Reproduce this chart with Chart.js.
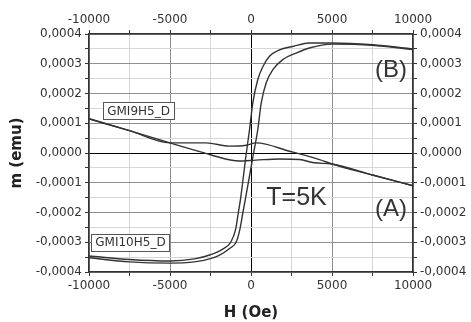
<!DOCTYPE html>
<html>
<head>
<meta charset="utf-8">
<script src="https://cdn.jsdelivr.net/npm/chart.js@4/dist/chart.umd.min.js"></script>
<style>
  body { margin: 0; background: #fff; }
  #wrap { width: 471px; height: 322px; }
</style>
</head>
<body>
<div id="wrap"><canvas id="chart" width="471" height="322"></canvas></div>
<script>
// GMI9H5_D (curve A) - two branches of a small loop on a linear background
const fieldA1 = [-10000, -7500, -5000, -2770, -1330, -300, 320, 2380, 4230, 5000, 7500, 10000];
const momentA1 = [0.000115, 0.000075, 0.000034, 0.000034, 0.000023, 0.000026, 0.000034, 0.000006, -0.000022, -0.000037, -0.000074, -0.00011];
const fieldA2 = [-10000, -7500, -5000, -4400, -3000, -2560, -700, 300, 1760, 3000, 3900, 5000, 7500, 10000];
const momentA2 = [0.000115, 0.000075, 0.000034, 0.000024, 0.000002, -0.000005, -0.000027, -0.000024, -0.00002, -0.000022, -0.000033, -0.000037, -0.000074, -0.00011];

// GMI10H5_D (curve B) - hysteresis loop
// descending branch (upper-left side of the loop)
const fieldB1 = [-10000, -7500, -5000, -3500, -2500, -1800, -1250, -950, -780, -650, -300, -90, 110, 420, 730, 1140, 1760, 2580, 3600, 5000, 7500, 10000];
const momentB1 = [-0.000346, -0.000358, -0.000363, -0.000356, -0.000342, -0.000325, -0.0003, -0.000257, -0.0002, -0.000156, -0.000005, 0.000079, 0.000168, 0.000247, 0.00029, 0.000325, 0.000347, 0.000358, 0.00037, 0.00037, 0.000364, 0.00035];
// ascending branch (lower-right side of the loop)
const fieldB2 = [-10000, -7500, -5000, -3500, -2500, -2000, -1300, -920, -700, -500, -350, 160, 420, 630, 940, 1350, 1960, 2790, 3600, 5000, 7500, 10000];
const momentB2 = [-0.000352, -0.000366, -0.00037, -0.000366, -0.000355, -0.000345, -0.00032, -0.0003, -0.00026, -0.0002, -0.000156, 0.0, 0.000079, 0.000168, 0.000236, 0.00028, 0.000314, 0.000336, 0.000353, 0.000366, 0.000362, 0.000348];

const fieldRange = [-10000, 10000];
const momentRange = [-0.0004, 0.0004];

const toPoints = (xs, ys) => xs.map((x, i) => ({ x: x, y: ys[i] }));

const tickFont = { family: 'DejaVu Sans', size: 12 };
const titleFont = { family: 'DejaVu Sans', size: 15, weight: 'bold' };

function isMinorH(v) { return Math.abs(v % 5000) > 1; }
function isMinorM(v) { return Math.round(v / 0.00005) % 2 !== 0; }
function fmtM(v) {
    if (isMinorM(v)) return '';
    let s = (Math.round(v * 10000) / 10000).toFixed(4);
    if (s === '-0.0000') s = '0.0000';
    return s.replace('.', ',');
}
function fmtH(v) { return isMinorH(v) ? '' : String(Math.round(v)); }

function gridColorH(ctx) {
    if (!ctx.tick) return '#999';
    if (ctx.tick.value === 0) return '#000';
    return isMinorH(ctx.tick.value) ? '#d6d6d6' : '#8e8e8e';
}
function gridColorM(ctx) {
    if (!ctx.tick) return '#999';
    if (Math.abs(ctx.tick.value) < 1e-9) return '#000';
    return isMinorM(ctx.tick.value) ? '#d6d6d6' : '#8e8e8e';
}

// text labels drawn on top of the plot
const labelsPlugin = {
    id: 'labels',
    afterDatasetsDraw(chart) {
        const ctx = chart.ctx;
        const sx = chart.scales.x, sy = chart.scales.y;
        const boxes = [
            { text: 'GMI9H5_D', h: -6940, m: 0.000143 },
            { text: 'GMI10H5_D', h: -7440, m: -0.0003 }
        ];
        ctx.save();
        ctx.font = '12px "DejaVu Sans"';
        ctx.textAlign = 'center';
        ctx.textBaseline = 'middle';
        boxes.forEach(b => {
            const px = sx.getPixelForValue(b.h), py = sy.getPixelForValue(b.m);
            const w = ctx.measureText(b.text).width + 8, hgt = 17;
            ctx.fillStyle = '#fff';
            ctx.fillRect(px - w / 2, py - hgt / 2, w, hgt);
            ctx.strokeStyle = '#555';
            ctx.lineWidth = 1;
            ctx.strokeRect(Math.round(px - w / 2) + 0.5, Math.round(py - hgt / 2) + 0.5, Math.round(w), hgt);
            ctx.fillStyle = '#333';
            ctx.fillText(b.text, px, py + 1);
        });
        ctx.fillStyle = '#333';
        ctx.font = '24px "Liberation Sans"';
        ctx.fillText('(B)', sx.getPixelForValue(8640), sy.getPixelForValue(0.000277));
        ctx.fillText('(A)', sx.getPixelForValue(8640), sy.getPixelForValue(-0.00019));
        ctx.font = '25px "Liberation Sans"';
        ctx.fillText('T=5K', sx.getPixelForValue(2810), sy.getPixelForValue(-0.000153));
        ctx.restore();
    }
};

const lineStyle = {
    borderColor: '#333',
    borderWidth: 1.4,
    pointRadius: 0,
    showLine: true,
    fill: false,
    cubicInterpolationMode: 'monotone'
};

new Chart(document.getElementById('chart'), {
    type: 'scatter',
    data: {
        datasets: [
            Object.assign({ label: 'A1', data: toPoints(fieldA1, momentA1) }, lineStyle),
            Object.assign({ label: 'A2', data: toPoints(fieldA2, momentA2) }, lineStyle),
            Object.assign({ label: 'B1', data: toPoints(fieldB1, momentB1) }, lineStyle),
            Object.assign({ label: 'B2', data: toPoints(fieldB2, momentB2) }, lineStyle)
        ]
    },
    options: {
        responsive: false,
        animation: false,
        layout: { padding: 0 },
        plugins: { legend: { display: false }, tooltip: { enabled: false } },
        scales: {
            x: {
                type: 'linear', position: 'bottom',
                min: fieldRange[0], max: fieldRange[1],
                afterFit: s => { s.height = 50; },
                ticks: { stepSize: 2500, autoSkip: false, maxRotation: 0, padding: 3, color: '#333', font: tickFont, callback: fmtH },
                grid: { color: gridColorH, tickColor: '#333', tickLength: 4, lineWidth: 1 },
                border: { color: '#333', width: 1.5 },
                title: { display: true, text: 'H (Oe)', color: '#222', font: titleFont, padding: { top: 2, bottom: 0 } }
            },
            x2: {
                type: 'linear', position: 'top',
                min: fieldRange[0], max: fieldRange[1],
                afterFit: s => { s.height = 34; },
                ticks: { stepSize: 2500, autoSkip: false, maxRotation: 0, padding: 3, color: '#333', font: tickFont, callback: fmtH },
                grid: { drawOnChartArea: false, tickColor: '#333', tickLength: 4 },
                border: { color: '#333', width: 1.5 }
            },
            y: {
                type: 'linear', position: 'left',
                min: momentRange[0], max: momentRange[1],
                afterFit: s => { s.width = 89; },
                ticks: { stepSize: 0.00005, autoSkip: false, padding: 3, color: '#333', font: tickFont, callback: fmtM },
                grid: { color: gridColorM, tickColor: '#333', tickLength: 4, lineWidth: 1 },
                border: { color: '#333', width: 1.5 },
                title: { display: true, text: 'm (emu)', color: '#222', font: titleFont, padding: { top: 8, bottom: 0 } }
            },
            y2: {
                type: 'linear', position: 'right',
                min: momentRange[0], max: momentRange[1],
                afterFit: s => { s.width = 58; },
                ticks: { stepSize: 0.00005, autoSkip: false, padding: 3, color: '#333', font: tickFont, callback: fmtM },
                grid: { drawOnChartArea: false, tickColor: '#333', tickLength: 4 },
                border: { color: '#333', width: 1.5 }
            }
        }
    },
    plugins: [labelsPlugin]
});
</script>
</body>
</html>
